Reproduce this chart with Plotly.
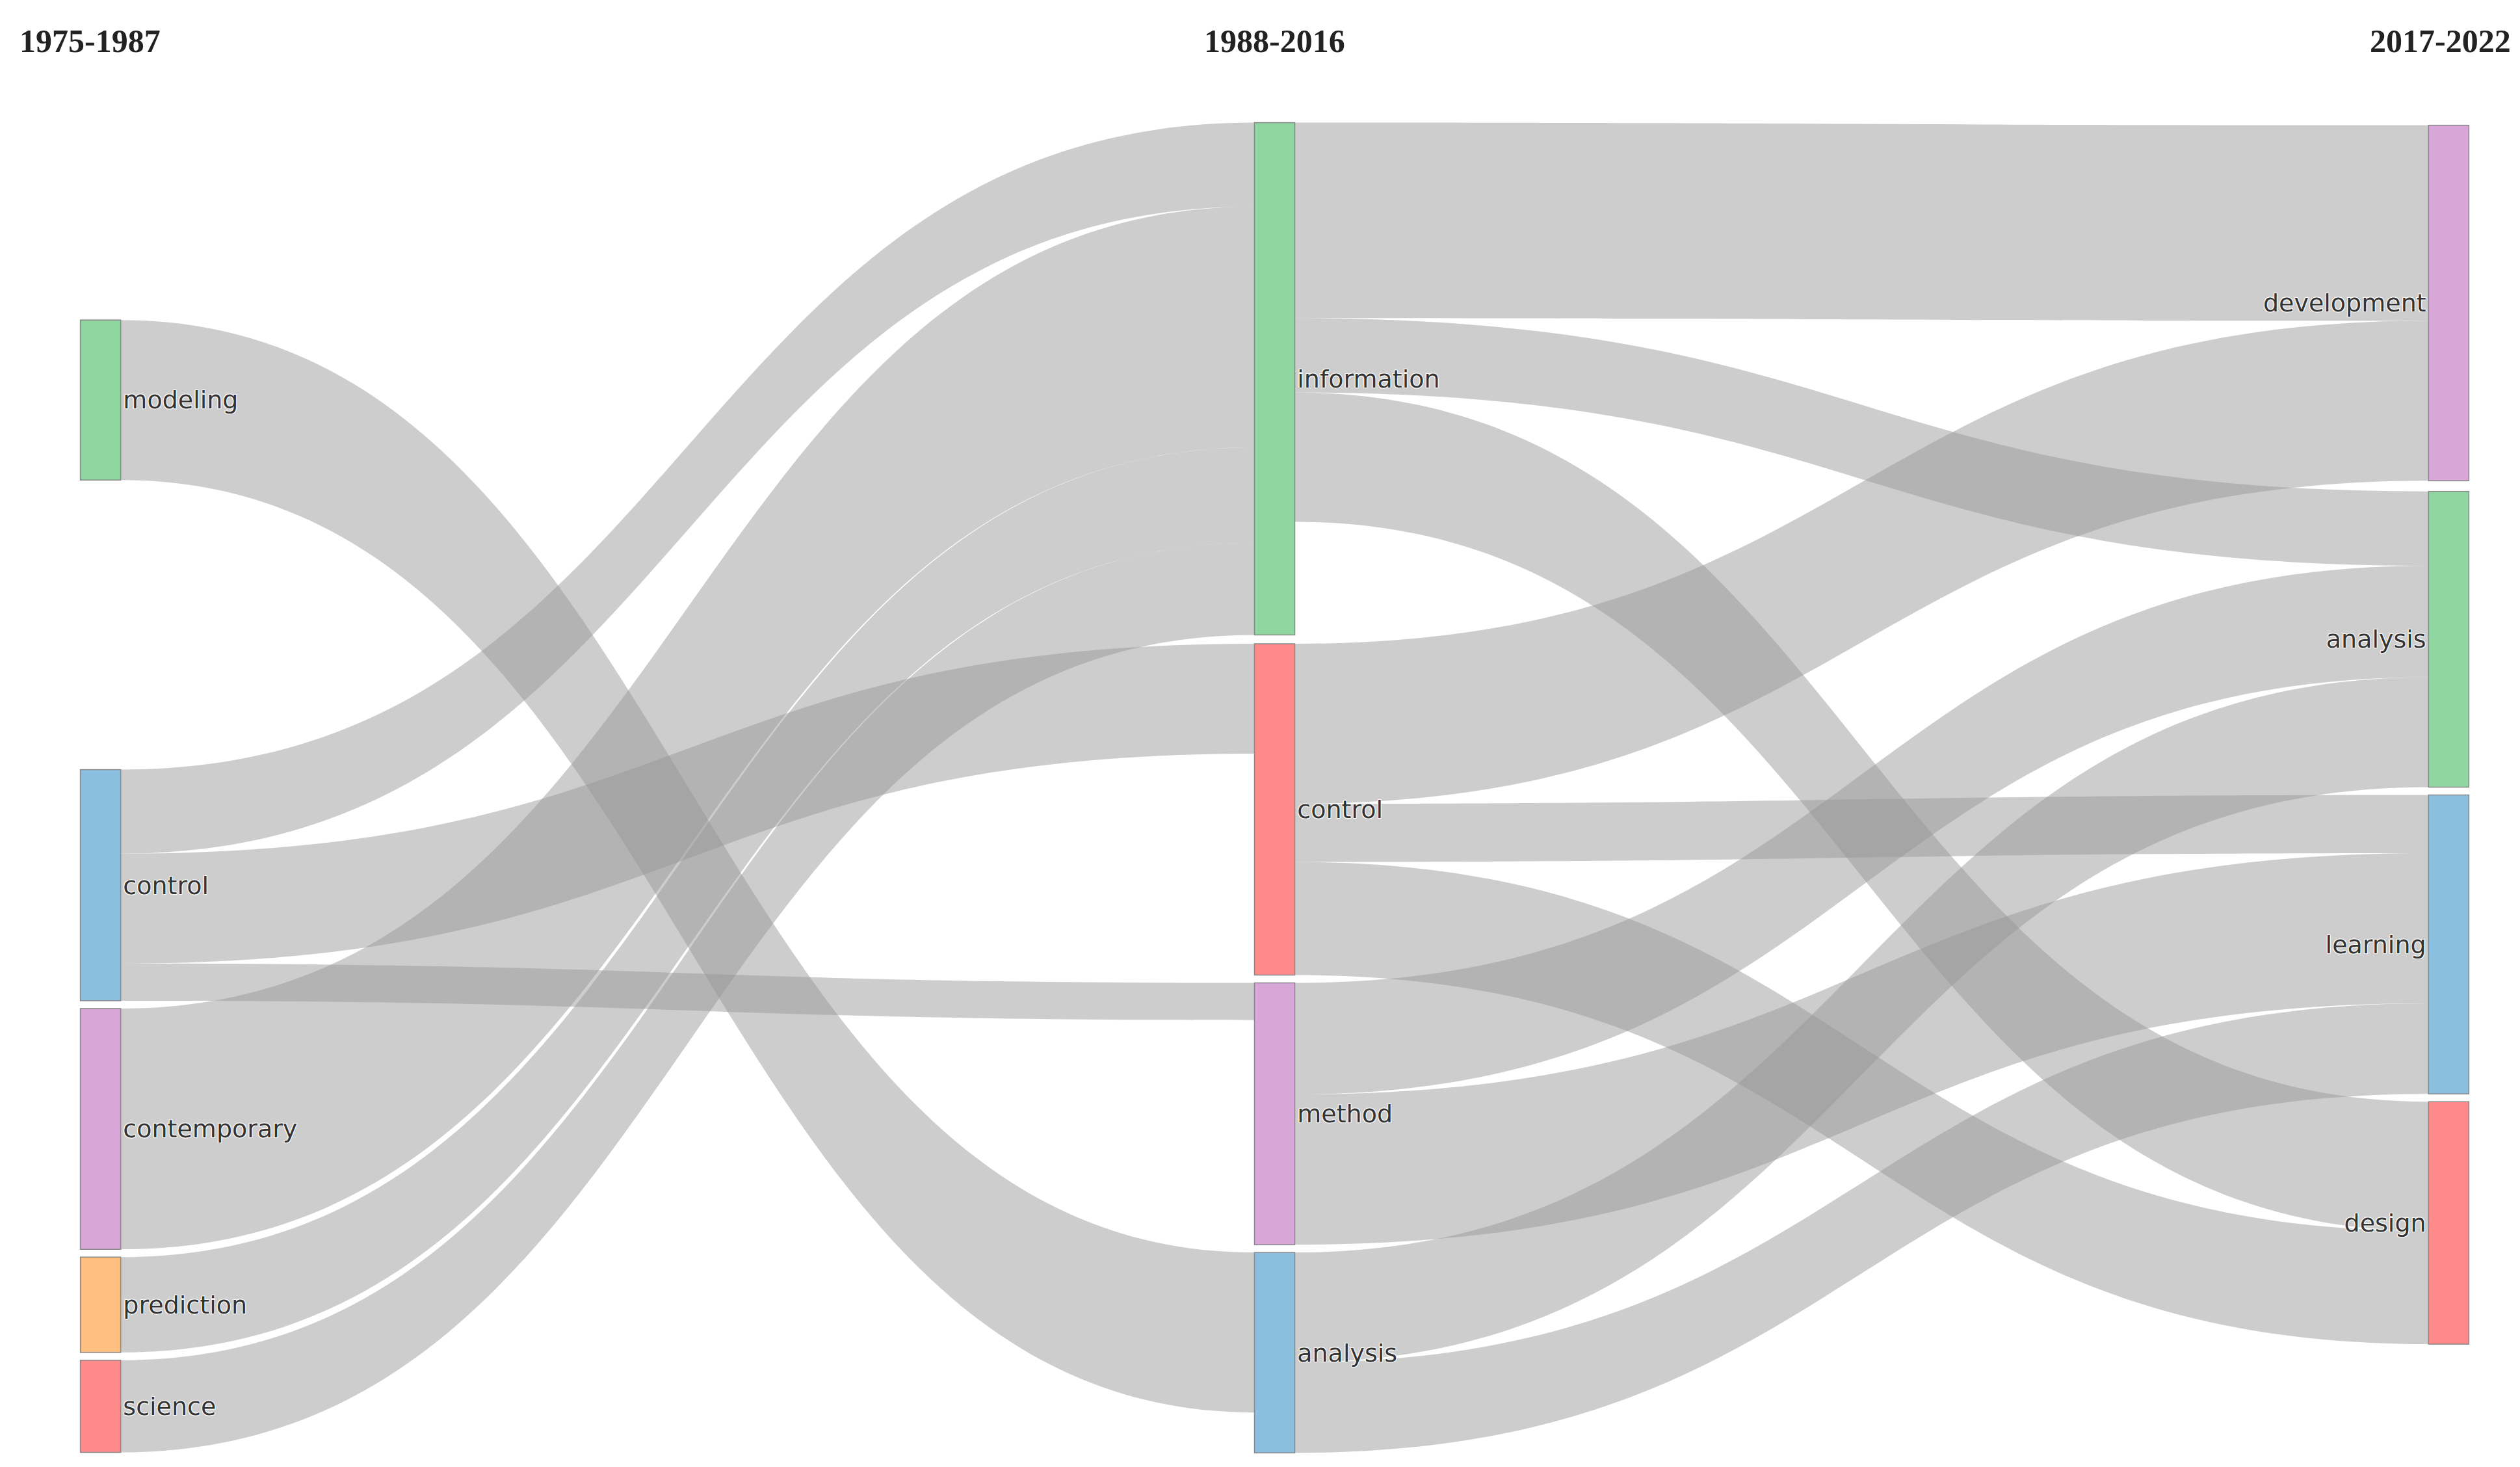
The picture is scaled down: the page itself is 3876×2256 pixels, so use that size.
import plotly.graph_objects as go

labels = ["modeling", "control", "contemporary", "prediction", "science",
          "information", "control", "method", "analysis",
          "development", "analysis", "learning", "design"]
node_colors = ["#8fd6a0", "#8bbfdf", "#d9a6d9", "#ffbf80", "#ff8a8a",
               "#8fd6a0", "#ff8a8a", "#d9a6d9", "#8bbfdf",
               "#d9a6d9", "#8fd6a0", "#8bbfdf", "#ff8a8a"]
node_x = [0.001]*5 + [0.5]*4 + [0.999]*4
node_y = [0.209, 0.574, 0.757, 0.889, 0.965,
          0.193, 0.517, 0.746, 0.925,
          0.136, 0.389, 0.615, 0.822]

sources = [0, 1, 1, 1, 2, 3, 4,
           5, 5, 5, 6, 6, 6, 7, 7, 8, 8]
targets = [8, 5, 6, 7, 5, 5, 5,
           9, 10, 12, 9, 11, 12, 10, 11, 10, 11]
values = [99, 52, 68, 23, 149, 59, 57,
          121, 46, 80, 99, 36, 70, 69, 93, 68, 56]

headers = ["1975-1987", "1988-2016", "2017-2022"]
header_x = [(-143 + 20) / 3619, 0.5, 1 + (114 - 20) / 3619]
header_anchor = ["left", "center", "right"]

fig = go.Figure(go.Sankey(
    arrangement="snap",
    node=dict(label=labels, color=node_colors, x=node_x, y=node_y,
              pad=12, thickness=62, line=dict(color="#888888", width=1.5)),
    link=dict(source=sources, target=targets, value=values,
              color="rgba(150,150,150,0.48)"),
    textfont=dict(family="DejaVu Sans", size=38, color="#333333"),
))
for x, anchor, t in zip(header_x, header_anchor, headers):
    fig.add_annotation(x=x, y=1.0, xref="paper", yref="paper", yanchor="bottom",
                       xanchor=anchor, yshift=95, text="<b>%s</b>" % t, showarrow=False,
                       font=dict(family="Liberation Serif", size=50, color="#222222"))
fig.update_layout(width=3876, height=2256, paper_bgcolor="white",
                  margin=dict(l=143, r=114, t=180, b=32))
fig.write_html("out.html")
